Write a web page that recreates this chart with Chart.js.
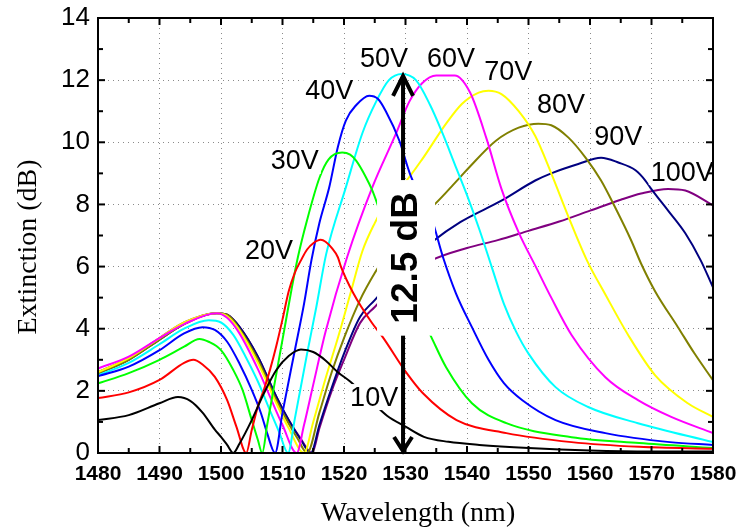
<!DOCTYPE html>
<html>
<head>
<meta charset="utf-8">
<script src="https://cdn.jsdelivr.net/npm/chart.js@4.4.1/dist/chart.umd.min.js"></script>
<style>
  html, body { margin: 0; padding: 0; background: #fff; }
  #wrap { width: 742px; height: 531px; }
</style>
</head>
<body>
<div id="wrap"><canvas id="chart-ext"></canvas></div>
<script>
/* extinction spectra vs wavelength, one curve per bias voltage */

const xMin = 1480, xMax = 1580, xStep = 10, xMinor = 5;
const yMin = 0, yMax = 14, yStep = 2, yMinor = 1;

const wl10  = [1480,1485,1490,1493,1495,1497,1499,1500,1501,1502,1503,1505,1507,1509,1511,1513,1515,1517,1519,1521,1524,1527,1530,1533,1537,1542,1550,1560,1570,1580];
const ext10 = [1.06,1.22,1.6,1.8,1.68,1.3,0.75,0.52,0.26,0,0.3,1.06,1.93,2.67,3.12,3.33,3.25,2.98,2.6,2.3,1.75,1.2,0.85,0.52,0.36,0.26,0.16,0.08,0.05,0.05];

const wl20  = [1480,1485,1490,1494,1495.5,1497,1499,1501,1502.5,1504.1,1505,1506,1507,1508,1509,1510,1511,1512,1513,1514,1515,1516.2,1517,1518,1519,1519.5,1521.5,1524.5,1526.3,1530.2,1532.8,1538.3,1546.4,1557,1568,1580];
const ext20 = [1.77,1.95,2.35,2.9,3.0,2.85,2.45,1.7,0.85,0,0.74,1.5,2.05,2.7,3.45,4.3,5.2,5.8,6.2,6.55,6.75,6.86,6.8,6.6,6.3,6.0,5.15,4.2,3.73,2.57,1.93,1.06,0.64,0.35,0.2,0.14];

const wl30  = [1480,1485,1490,1494,1496.5,1498,1500,1502,1503.5,1505,1506,1506.7,1507.5,1508.5,1509.5,1510.5,1511.5,1512.5,1514,1516,1517.5,1519.7,1521,1522,1523.5,1524.6,1526,1528,1530,1532,1534.2,1536.6,1540.8,1546.4,1557,1568,1580];
const ext30 = [2.24,2.57,3.0,3.42,3.67,3.58,3.31,2.67,2.03,1.06,0.42,0,0.9,2.0,3.1,4.2,5.3,6.3,7.5,8.85,9.45,9.67,9.6,9.4,8.9,8.45,7.7,6.7,5.7,4.65,3.73,2.76,1.6,0.96,0.51,0.32,0.16];

const wl40  = [1480,1485,1490,1494,1497,1499,1501,1503,1505,1506.5,1507.5,1508.8,1510,1512,1513.5,1514.7,1516,1517.6,1519,1520.3,1522,1524.1,1525.5,1526.8,1529,1530.7,1532,1534.3,1536.1,1538.2,1540.8,1543.5,1546,1549,1554.4,1562.5,1573,1580];
const ext40 = [2.47,2.78,3.31,3.85,4.05,3.96,3.58,2.88,2.03,1.28,0.64,0,1.3,3.3,4.8,6.2,7.4,8.55,9.85,10.7,11.2,11.5,11.4,11.0,10.05,9.0,8.4,7.5,6.3,5.14,4.05,3.0,2.25,1.7,1.06,0.64,0.35,0.26];

const wl50  = [1480,1485,1490,1494,1498,1500,1502,1504,1506,1508,1509.5,1510.9,1512,1514,1515.5,1517.1,1520.3,1523,1525.2,1527.3,1529.4,1531.7,1534,1536,1538,1540,1542,1544,1546,1548,1550,1554.4,1559.7,1567.8,1580];
const ext50 = [2.5,2.9,3.5,4.0,4.27,4.2,3.8,3.1,2.3,1.35,0.65,0,1.1,3.2,4.7,6.4,8.55,10.3,11.3,12.0,12.2,12.0,11.2,10.3,9.3,8.3,7.2,6.0,4.8,3.9,3.2,2.12,1.48,0.96,0.35];

const wl60  = [1480,1485,1490,1494,1499.3,1501,1503,1506,1508,1510,1512.3,1513.5,1515,1517,1520.5,1524.6,1528.5,1530.6,1532.7,1535,1538,1540.5,1543.2,1545.6,1548.4,1551.3,1553.7,1557,1562.5,1567.8,1573.2,1580];
const ext60 = [2.72,3.1,3.7,4.15,4.5,4.35,3.85,2.7,1.8,0.9,0,0.9,2.2,3.9,6.3,8.55,10.3,11.3,11.9,12.15,12.15,11.6,10.1,8.5,7.1,5.95,5.0,3.8,2.44,1.7,1.16,0.64];

const wl70  = [1480,1485,1490,1494,1499.3,1501,1503,1506,1509,1511,1513.5,1515,1517,1519,1521,1523,1525,1527,1529.9,1532.7,1536.6,1539.2,1541.9,1543.5,1545.6,1548.4,1551.1,1553.7,1556.5,1559.5,1562.5,1566.2,1570.6,1575.9,1580];
const ext70 = [2.6,3.05,3.7,4.2,4.5,4.4,3.95,2.9,1.6,0.8,0,1.0,2.4,3.7,5.1,6.5,7.4,8.1,8.7,9.45,10.6,11.24,11.6,11.66,11.55,11.0,10.2,9.0,7.6,6.2,5.1,3.8,2.5,1.6,1.16];

const wl80  = [1480,1485,1490,1494,1499.3,1501,1503,1506,1509,1511,1512.5,1514,1516,1518,1520,1522.6,1525,1528,1531,1534.3,1538.9,1540.3,1544.7,1548.4,1551.6,1553.7,1556.5,1559.3,1561.8,1564.1,1566.7,1568.3,1570.6,1574.3,1577,1580];
const ext80 = [2.56,3.0,3.65,4.15,4.5,4.45,4.0,3.0,1.7,0.95,0.45,0,1.3,2.6,3.7,4.92,5.79,6.7,7.4,7.92,8.88,9.18,10.05,10.47,10.6,10.55,10.15,9.5,8.77,7.9,6.84,6.1,5.2,4.05,3.2,2.34];

const wl90  = [1480,1485,1490,1494,1499.3,1501,1503,1506,1509,1511,1513,1514.6,1516,1518,1520,1522.6,1525,1528,1531,1534.3,1538.9,1545.6,1551.1,1553.7,1558.1,1561.8,1564.6,1567.4,1569,1569.8,1572.7,1575.5,1578,1580];
const ext90 = [2.56,3.0,3.65,4.15,4.5,4.45,4.06,3.1,1.81,1.06,0.42,0,0.9,2.1,3.2,4.38,4.92,5.6,6.2,6.79,7.43,8.12,8.77,9.0,9.3,9.5,9.35,9.1,8.77,8.54,7.8,7.07,6.2,5.33];

const wl100  = [1480,1485,1490,1494,1499.3,1501,1503,1506,1509,1511,1513,1514.8,1516,1518,1520,1522.6,1525,1528,1531,1534.3,1540,1545,1550,1555,1560,1565,1568.3,1572.7,1575.5,1580];
const ext100 = [2.6,3.05,3.7,4.2,4.5,4.45,4.06,3.1,1.81,1.06,0.45,0,0.8,2.0,3.0,4.18,4.7,5.3,5.8,6.21,6.6,6.85,7.15,7.45,7.8,8.15,8.35,8.5,8.45,7.97];

const voltages = ['10V','20V','30V','40V','50V','60V','70V','80V','90V','100V'];
const colors   = ['#000000','#ff0000','#00ff00','#0000ff','#00ffff','#ff00ff','#ffff00','#808000','#000080','#800080'];
const wls  = [wl10, wl20, wl30, wl40, wl50, wl60, wl70, wl80, wl90, wl100];
const exts = [ext10, ext20, ext30, ext40, ext50, ext60, ext70, ext80, ext90, ext100];

// curve labels, placed in data units (wavelength, dB)
const labelWl  = [1524.9, 1507.8, 1512.0, 1517.6, 1526.5, 1537.4, 1546.7, 1555.3, 1564.6, 1575.0];
const labelExt = [1.8, 6.53, 9.4, 11.68, 12.71, 12.71, 12.29, 11.2, 10.17, 9.04];

// double arrow marking the maximum extinction
const arrowWl = 1529.6, arrowTop = 12.2, arrowBottom = 0;
const arrowText = '12.5 dB', arrowTextExt = 6.28;

const datasets = voltages.map((v, i) => ({
  label: v,
  data: wls[i].map((w, k) => ({ x: w, y: exts[i][k] })),
  borderColor: colors[i],
  borderWidth: 2,
  pointRadius: 0,
  fill: false,
  cubicInterpolationMode: 'monotone',
}));

function line(ctx, x1, y1, x2, y2) {
  ctx.beginPath(); ctx.moveTo(x1, y1); ctx.lineTo(x2, y2); ctx.stroke();
}

const overlay = {
  id: 'overlay',
  afterDatasetsDraw(chart) {
    const { ctx, scales: { x, y } } = chart;
    ctx.save();

    // arrow
    const ax = x.getPixelForValue(arrowWl);
    const aTop = y.getPixelForValue(arrowTop), aBot = y.getPixelForValue(arrowBottom);
    ctx.strokeStyle = '#000'; ctx.lineWidth = 4; ctx.lineCap = 'butt'; ctx.lineJoin = 'miter';
    line(ctx, ax, aTop + 2, ax, aBot - 2);
    ctx.beginPath(); ctx.moveTo(ax - 10, aTop + 22); ctx.lineTo(ax, aTop + 2); ctx.lineTo(ax + 10, aTop + 22); ctx.stroke();
    ctx.beginPath(); ctx.moveTo(ax - 9, aBot - 16); ctx.lineTo(ax, aBot - 2); ctx.lineTo(ax + 9, aBot - 16); ctx.stroke();

    // rotated arrow text on a white box
    ctx.font = 'bold 37px "Liberation Sans", Arial, sans-serif';
    const tw = ctx.measureText(arrowText).width;
    const tx = x.getPixelForValue(arrowWl) + 3, ty = y.getPixelForValue(arrowTextExt);
    ctx.fillStyle = '#fff';
    ctx.fillRect(tx - 29, ty - tw / 2 - 12, 58, tw + 24);
    ctx.translate(tx, ty);
    ctx.rotate(-Math.PI / 2);
    ctx.fillStyle = '#000'; ctx.textAlign = 'center'; ctx.textBaseline = 'middle';
    ctx.fillText(arrowText, 0, 1);
    ctx.setTransform(1, 0, 0, 1, 0, 0);

    // voltage labels on white boxes
    ctx.font = '27px "Liberation Sans", Arial, sans-serif';
    ctx.textAlign = 'center'; ctx.textBaseline = 'middle';
    voltages.forEach((v, i) => {
      const px = x.getPixelForValue(labelWl[i]), py = y.getPixelForValue(labelExt[i]);
      const w = ctx.measureText(v).width;
      ctx.fillStyle = '#fff';
      ctx.fillRect(px - w / 2 - 2, py - 13, w + 4, 26);
      ctx.fillStyle = '#000';
      ctx.fillText(v, px, py + 1);
    });
    ctx.restore();
  },
  afterDraw(chart) {
    const { ctx, chartArea: a, scales: { x, y } } = chart;
    ctx.save();
    ctx.strokeStyle = '#000';
    ctx.lineWidth = 2;
    ctx.strokeRect(a.left, a.top, a.right - a.left, a.bottom - a.top);
    for (let v = xMin; v <= xMax; v += xMinor) {
      const px = x.getPixelForValue(v), len = (v - xMin) % xStep === 0 ? 7 : 5;
      line(ctx, px, a.bottom, px, a.bottom - len);
      line(ctx, px, a.top, px, a.top + len);
    }
    for (let v = yMin; v <= yMax; v += yMinor) {
      const py = y.getPixelForValue(v), len = v % yStep === 0 ? 7 : 5;
      line(ctx, a.left, py, a.left + len, py);
      line(ctx, a.right, py, a.right - len, py);
    }

    // axis titles
    ctx.fillStyle = '#000';
    ctx.font = '28px "Liberation Serif", "Times New Roman", serif';
    ctx.textAlign = 'center'; ctx.textBaseline = 'middle';
    ctx.fillText('Wavelength (nm)', 418, 514);
    ctx.translate(29, 247);
    ctx.rotate(-Math.PI / 2);
    ctx.fillText('Extinction (dB)', 0, 0);
    ctx.restore();
  },
};

new Chart(document.getElementById('chart-ext'), {
  type: 'line',
  data: { datasets },
  options: {
    responsive: true, maintainAspectRatio: false, animation: false,
    layout: { padding: { left: 0, right: 29, top: 18, bottom: 0 } },
    plugins: { legend: { display: false }, tooltip: { enabled: false } },
    scales: {
      x: {
        type: 'linear', min: xMin, max: xMax,
        afterFit: s => { s.height = 78; s.paddingLeft = 0; s.paddingRight = 0; },
        ticks: {
          stepSize: xStep, color: '#000', padding: 9, maxRotation: 0, autoSkip: false,
          callback: v => String(v),
          font: { family: '"Liberation Sans", Arial, sans-serif', size: 21, weight: 'bold' },
        },
        grid: { color: '#8a8a8a', lineWidth: 1, drawTicks: false },
        border: { display: false, dash: [1, 4] },
      },
      y: {
        type: 'linear', min: yMin, max: yMax,
        afterFit: s => { s.width = 98; s.paddingTop = 0; s.paddingBottom = 0; },
        ticks: {
          stepSize: yStep, color: '#000', padding: 8,
          font: { family: '"Liberation Sans", Arial, sans-serif', size: 26 },
        },
        grid: { color: '#8a8a8a', lineWidth: 1, drawTicks: false },
        border: { display: false, dash: [1, 4] },
      },
    },
  },
  plugins: [overlay],
});
</script>
</body>
</html>
